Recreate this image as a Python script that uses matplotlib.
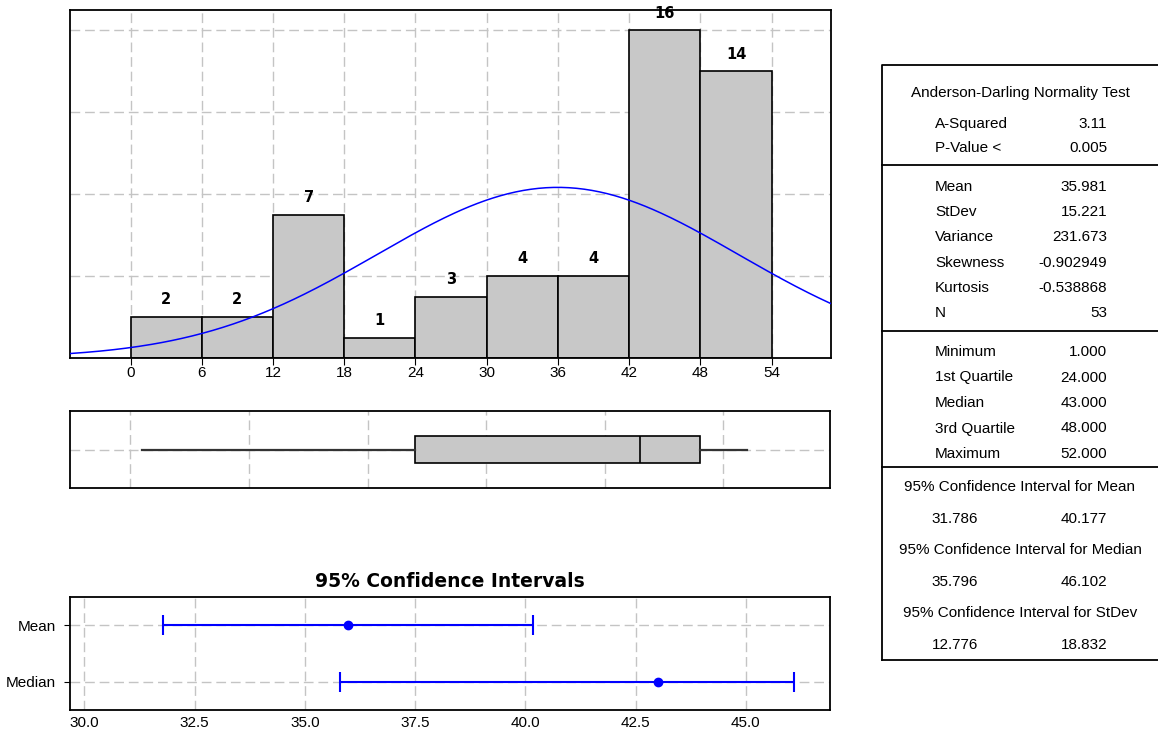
import numpy as np
import matplotlib
matplotlib.use("Agg")
import matplotlib.pyplot as plt

# histogram data (bin edges and counts)
bin_edges = [0, 6, 12, 18, 24, 30, 36, 42, 48, 54]
counts = [2, 2, 7, 1, 3, 4, 4, 16, 14]

# summary statistics
n_obs = 53
mean_val = 35.981
stdev_val = 15.221
minimum = 1.0
q1 = 24.0
median_val = 43.0
q3 = 48.0
maximum = 52.0

# confidence intervals
ci_labels = ["Mean", "Median"]
ci_centers = [35.981, 43.0]
ci_low = [31.786, 35.796]
ci_high = [40.177, 46.102]

# table on the right
ad_rows = [("A-Squared", "3.11"), ("P-Value <", "0.005")]
desc_rows = [("Mean", "35.981"), ("StDev", "15.221"), ("Variance", "231.673"),
             ("Skewness", "-0.902949"), ("Kurtosis", "-0.538868"), ("N", "53")]
quart_rows = [("Minimum", "1.000"), ("1st Quartile", "24.000"), ("Median", "43.000"),
              ("3rd Quartile", "48.000"), ("Maximum", "52.000")]
ci_rows = [("95% Confidence Interval for Mean", "31.786", "40.177"),
           ("95% Confidence Interval for Median", "35.796", "46.102"),
           ("95% Confidence Interval for StDev", "12.776", "18.832")]

W, H = 1158, 738
FONT = ["Liberation Sans", "DejaVu Sans"]
GRID = dict(color="#c4c4c4", linestyle=(0, (7, 3.5)), linewidth=1.0)
plt.rcParams["font.family"] = FONT


def box_px(left, top, right, bottom):
    return [left / W, (H - bottom) / H, (right - left) / W, (bottom - top) / H]


fig = plt.figure(figsize=(W / 100, H / 100), dpi=100)

# ---------- histogram ----------
ax1 = fig.add_axes(box_px(70, 10, 831, 358))
lefts = np.array(bin_edges[:-1])
widths = np.diff(bin_edges)
bars = ax1.bar(lefts, counts, width=widths, align="edge", color="#c8c8c8",
               edgecolor="black", linewidth=1.2, zorder=2)
for b, c in zip(bars, counts):
    ax1.annotate(str(c), (b.get_x() + b.get_width() / 2, b.get_height()),
                 xytext=(0, 7), textcoords="offset points", ha="center", va="bottom",
                 fontsize=10.5, fontweight="bold", family=["DejaVu Sans"])
xs = np.linspace(-5.1, 59, 300)
pdf = n_obs * 6 / (stdev_val * np.sqrt(2 * np.pi)) * np.exp(-0.5 * ((xs - mean_val) / stdev_val) ** 2)
ax1.plot(xs, pdf, color="#0000ff", linewidth=1.1, zorder=3)
ax1.set_xlim(-5.1, 59)
ax1.set_ylim(0, 17)
ax1.set_xticks(bin_edges)
ax1.set_yticks([4, 8, 12, 16])
ax1.tick_params(axis="y", length=0, labelleft=False)
ax1.tick_params(axis="x", direction="out", length=5, labelsize=11, pad=1)
ax1.grid(True, **GRID, zorder=0)
ax1.set_axisbelow(True)
for s in ax1.spines.values():
    s.set_linewidth(1.3)

# ---------- boxplot ----------
ax2 = fig.add_axes(box_px(70, 411, 830, 488))
stats = [dict(med=median_val, q1=q1, q3=q3, whislo=minimum, whishi=maximum, fliers=[])]
ax2.bxp(stats, positions=[0.5], widths=0.35, vert=False, showcaps=False, patch_artist=True,
        boxprops=dict(facecolor="#c8c8c8", edgecolor="black", linewidth=1.2),
        medianprops=dict(color="black", linewidth=1.2),
        whiskerprops=dict(color="#333333", linewidth=1.6), zorder=3)
ax2.set_xlim(-5.1, 59)
ax2.set_ylim(0, 1)
ax2.set_xticks([0, 10, 20, 30, 40, 50])
ax2.set_yticks([0.5])
ax2.tick_params(length=0, labelbottom=False, labelleft=False)
ax2.grid(True, **GRID, zorder=0)
ax2.set_axisbelow(True)
for s in ax2.spines.values():
    s.set_linewidth(1.3)

# ---------- confidence intervals ----------
ax3 = fig.add_axes(box_px(70, 597, 830, 710))
ypos = [2, 1]
for y, c, lo, hi in zip(ypos, ci_centers, ci_low, ci_high):
    ax3.errorbar([c], [y], xerr=[[c - lo], [hi - c]], fmt="o", color="#0000ff",
                 ecolor="#0000ff", elinewidth=1.5, capsize=7, capthick=1.5,
                 markersize=6, zorder=3)
ax3.set_xlim(29.676, 46.91)
ax3.set_ylim(0.5, 2.5)
ax3.set_xticks([30.0, 32.5, 35.0, 37.5, 40.0, 42.5, 45.0])
ax3.set_xticklabels(["30.0", "32.5", "35.0", "37.5", "40.0", "42.5", "45.0"])
ax3.set_yticks(ypos)
ax3.set_yticklabels(ci_labels)
ax3.tick_params(axis="x", length=0, labelsize=11, pad=4)
ax3.tick_params(axis="y", direction="out", length=4, labelsize=11, pad=6)
ax3.grid(True, **GRID, zorder=0)
ax3.set_axisbelow(True)
for s in ax3.spines.values():
    s.set_linewidth(1.3)
ax3.set_title("95% Confidence Intervals", fontsize=13.5, fontweight="bold",
              family=["DejaVu Sans"], pad=7)

# ---------- summary table ----------
tab = fig.add_axes([0, 0, 1, 1], zorder=-1)
tab.set_xlim(0, W)
tab.set_ylim(H, 0)
tab.axis("off")
tab.plot([882, 882, W + 5], [660, 65, 65], color="black", linewidth=1.3, clip_on=False)
tab.plot([882, W + 5], [660, 660], color="black", linewidth=1.3, clip_on=False)
for yl in [165, 331, 467]:
    tab.plot([882, W + 5], [yl, yl], color="black", linewidth=1.3, clip_on=False)

tk = dict(fontsize=11, va="center")
tab.text(1020, 93, "Anderson-Darling Normality Test", ha="center", **tk)
for i, (lab, val) in enumerate(ad_rows):
    y = 124 + i * 24.5
    tab.text(935, y, lab, ha="left", **tk)
    tab.text(1107, y, val, ha="right", **tk)
for i, (lab, val) in enumerate(desc_rows):
    y = 187 + i * 25.2
    tab.text(935, y, lab, ha="left", **tk)
    tab.text(1107, y, val, ha="right", **tk)
for i, (lab, val) in enumerate(quart_rows):
    y = 352 + i * 25.5
    tab.text(935, y, lab, ha="left", **tk)
    tab.text(1107, y, val, ha="right", **tk)
for i, (lab, lo, hi) in enumerate(ci_rows):
    y = 487 + i * 63
    tab.text(1020, y, lab, ha="center", **tk)
    tab.text(955, y + 32, lo, ha="center", **tk)
    tab.text(1084, y + 32, hi, ha="center", **tk)

fig.savefig("out.png", dpi=100)
